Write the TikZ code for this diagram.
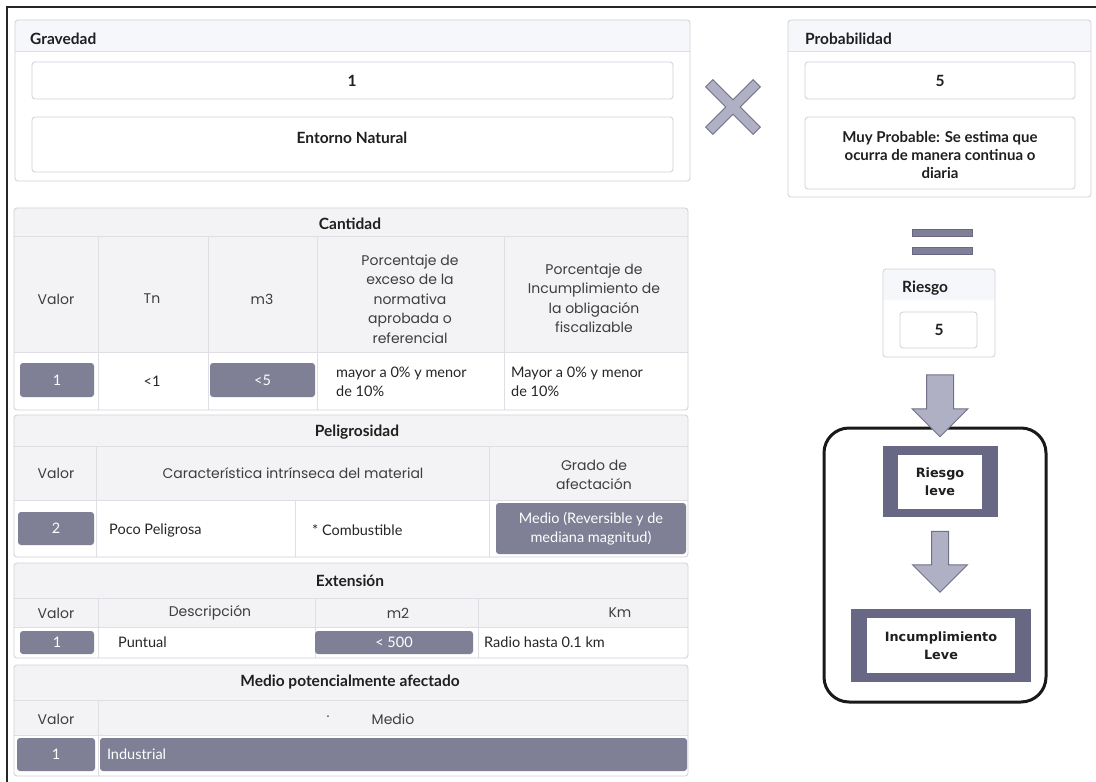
\documentclass[tikz,border=0pt]{standalone}
\usepackage{fontspec}
\setmainfont{Lato}
\newfontfamily\geofont{Poppins}
\newfontfamily\tahfont{DejaVu Sans}
\usetikzlibrary{positioning,shapes.arrows}

\definecolor{panelline}{RGB}{206,207,214}
\definecolor{gridcol}{RGB}{222,222,228}
\definecolor{bandfill}{RGB}{245,247,251}
\definecolor{headfill}{RGB}{243,243,246}
\definecolor{boxgray}{RGB}{127,127,150}
\definecolor{framegray}{RGB}{104,104,132}
\definecolor{arrowfill}{RGB}{176,176,196}
\definecolor{arrowline}{RGB}{112,112,136}
\definecolor{hdtext}{RGB}{62,62,66}

\tikzset{
    % panels and table rules
    panel/.style={draw=panelline, line width=0.8pt, rounded corners=3pt},
    gridrule/.style={draw=gridcol, line width=0.7pt},
    ttl/.style={font=\bfseries\fontsize{15.5}{18}\selectfont, text=black!88, inner sep=0pt},
    hcell/.style={font=\geofont\fontsize{14}{19.5}\selectfont, text=hdtext, align=center, inner sep=0pt},
    dcell/.style={font=\fontsize{14.5}{19}\selectfont, text=black!85, align=left, anchor=west, inner sep=0pt},
    gbox/.style={fill=boxgray, rounded corners=3pt, text=white, inner sep=0pt,
      font=\fontsize{14.5}{19}\selectfont, align=center},
    xbar/.style={rectangle, minimum width=66, minimum height=9, inner sep=0pt},
    eqbar/.style={fill=boxgray, draw=framegray, line width=0.8pt, minimum width=60, minimum height=7, inner sep=0pt},
    bigarrow/.style={single arrow, rotate=-90, fill=arrowfill, draw=arrowline,
      line width=1pt, inner xsep=0pt, single arrow tip angle=90},
    leve/.style={fill=white, inner sep=0pt, align=center, text=black!88,
      font=\tahfont\bfseries\fontsize{12.8}{18}\selectfont},
}

\begin{document}
\begin{tikzpicture}[x=1pt,y=-1pt]
    \useasboundingbox (0,0) rectangle (1096,782);
    \fill[white] (0,0) rectangle (1096,782);
    \draw[line width=1.3pt, black!85] (7,782) -- (7,7) -- (1096,7);

    % Gravedad
    \fill[white, rounded corners=3pt] (15,20) rectangle (690,181);
    \fill[bandfill] (15.4,51) [rounded corners=3pt]-- (15.4,20.4) -- (689.6,20.4) [sharp corners]-- (689.6,51) -- cycle;
    \draw[gridrule] (15,51) -- (690,51);
    \draw[panel] (15,20) rectangle (690,181);
    \node (grav) [ttl, anchor=west] at (30,39) {Gravedad};
    \draw[panel] (32,62) rectangle (673,99);
    \node (gval) [ttl] at (352,81) {1};
    \draw[panel] (32,117) rectangle (673,172);
    \node (gdesc) [ttl] at (352,138) {Entorno Natural};

    % por
    \foreach \a in {45,-45}
      \node (xo\a) [xbar, rotate=\a, draw=arrowline, line width=2pt] at (733,107) {};
    \foreach \a in {45,-45}
      \node (xi\a) [xbar, rotate=\a, fill=arrowfill] at (733,107) {};

    % Probabilidad
    \fill[white, rounded corners=3pt] (788,20) rectangle (1091,197);
    \fill[bandfill] (788.4,51) [rounded corners=3pt]-- (788.4,20.4) -- (1090.6,20.4) [sharp corners]-- (1090.6,51) -- cycle;
    \draw[gridrule] (788,51) -- (1091,51);
    \draw[panel] (788,20) rectangle (1091,197);
    \node (prob) [ttl, anchor=west] at (805,39) {Probabilidad};
    \draw[panel] (805,62) rectangle (1075,99);
    \node (pval) [ttl] at (940,81) {5};
    \draw[panel] (805,117) rectangle (1075,189);
    \node (pdesc) [ttl, align=center, font=\bfseries\fontsize{15}{18}\selectfont] at (940,155)
          {Muy Probable: Se estima que\\ocurra de manera continua o\\diaria};

    % Cantidad
    \fill[white, rounded corners=3pt] (14,208) rectangle (688,410);
    \fill[headfill] (14.4,352) [rounded corners=3pt]-- (14.4,208.4) -- (687.6,208.4) [sharp corners]-- (687.6,352) -- cycle;
    \draw[gridrule] (14,236) -- (688,236) (14,352) -- (688,352);
    \draw[gridrule] (98,236) -- (98,410) (208,236) -- (208,410)
          (317,236) -- (317,410) (504,236) -- (504,410);
    \draw[panel] (14,208) rectangle (688,410);
    \node (cant) [ttl] at (350,224) {Cantidad};
    \node (cvalh) [hcell] at (56,299) {Valor};
    \node (ctnh) [hcell] at (152,299) {Tn};
    \node (cm3h) [hcell] at (262,299) {m3};
    \node (cexh) [hcell] at (410,299)
          {Porcentaje de\\exceso de la\\normativa\\aprobada o\\referencial};
    \node (cinh) [hcell] at (594,298)
          {Porcentaje de\\Incumplimiento de\\la obligación\\fiscalizable};
    \node (cval) [gbox, minimum width=74, minimum height=34] at (57,380) {1};
    \node (ctn) [dcell, anchor=center] at (152,381) {<1};
    \node (cm3) [gbox, minimum width=105, minimum height=34] at (262.5,380) {<5};
    \node (cex) [dcell] at (336,382) {mayor a 0\% y menor\\de 10\%};
    \node (cin) [dcell] at (511,382) {Mayor a 0\% y menor\\de 10\%};

    % Peligrosidad
    \fill[white, rounded corners=3pt] (14,415) rectangle (688,557);
    \fill[headfill] (14.4,500) [rounded corners=3pt]-- (14.4,415.4) -- (687.6,415.4) [sharp corners]-- (687.6,500) -- cycle;
    \draw[gridrule] (14,446) -- (688,446) (14,500) -- (688,500);
    \draw[gridrule] (96,446) -- (96,557) (489,446) -- (489,557) (295,500) -- (295,557);
    \draw[panel] (14,415) rectangle (688,557);
    \node (pel) [ttl] at (357,432) {Peligrosidad};
    \node (pvalh) [hcell] at (56,473) {Valor};
    \node (pcarh) [hcell] at (293,473) {Característica intrínseca del material};
    \node (pgrah) [hcell] at (594,475) {Grado de\\afectación};
    \node (pval2) [gbox, minimum width=76, minimum height=33] at (56,528.5) {2};
    \node (ppoco) [dcell] at (109,530) {Poco Peligrosa};
    \node (pcomb) [dcell] at (312,530) {* Combustible};
    \node (pgra) [gbox, minimum width=190, minimum height=51] at (591,528.5)
          {Medio (Reversible y de\\mediana magnitud)};

    % Extension
    \fill[white, rounded corners=3pt] (14,563) rectangle (688,658);
    \fill[headfill] (14.4,627) [rounded corners=3pt]-- (14.4,563.4) -- (687.6,563.4) [sharp corners]-- (687.6,627) -- cycle;
    \draw[gridrule] (14,598) -- (688,598) (14,627) -- (688,627);
    \draw[gridrule] (98,598) -- (98,658) (315,598) -- (315,658) (478,598) -- (478,658);
    \draw[panel] (14,563) rectangle (688,658);
    \node (ext) [ttl] at (350,581) {Extensión};
    \node (evalh) [hcell] at (56,613) {Valor};
    \node (edesh) [hcell] at (210,613) {Descripción};
    \node (em2h) [hcell] at (398,613) {m2};
    \node (ekmh) [hcell] at (620,613) {Km};
    \node (eval) [gbox, minimum width=74, minimum height=23] at (57,642.5) {1};
    \node (epun) [dcell] at (118,642.5) {Puntual};
    \node (em2) [gbox, minimum width=158, minimum height=23] at (394,642.5) {< 500};
    \node (ekm) [dcell] at (484,642.5) {Radio hasta 0.1 km};

    % Medio potencialmente afectado
    \fill[white, rounded corners=3pt] (14,665) rectangle (688,776);
    \fill[headfill] (14.4,735) [rounded corners=3pt]-- (14.4,665.4) -- (687.6,665.4) [sharp corners]-- (687.6,735) -- cycle;
    \draw[gridrule] (14,700) -- (688,700) (14,735) -- (688,735);
    \draw[gridrule] (98,700) -- (98,776);
    \draw[panel] (14,665) rectangle (688,776);
    \node (med) [ttl] at (350,682) {Medio potencialmente afectado};
    \node (mvalh) [hcell] at (56,719) {Valor};
    \node (mdot) [hcell] at (328,717) {.};
    \node (mmedh) [hcell] at (393,719) {Medio};
    \node (mval) [gbox, minimum width=78, minimum height=33] at (56,754.5) {1};
    \node (mind) [gbox, minimum width=587, minimum height=33, text width=573, align=left] at (393.5,754.5) {Industrial};

    % igual
    \node (eq1) [eqbar] at (942,232.5) {};
    \node (eq2) [eqbar] at (942,250.5) {};

    % Riesgo
    \fill[white, rounded corners=3pt] (883,269) rectangle (995,357);
    \fill[bandfill] (883.4,300) [rounded corners=3pt]-- (883.4,269.4) -- (994.6,269.4) [sharp corners]-- (994.6,300) -- cycle;
    \draw[panel] (883,269) rectangle (995,357);
    \node (ries) [ttl] [anchor=west] at (902,288) {Riesgo};
    \draw[panel] (900,312) rectangle (977,348);
    \node (rval) [ttl] at (939,330) {5};

    % resultado
    \draw[line width=3pt, black!90, rounded corners=25pt] (824,428) rectangle (1046,702);
    \node (arr1) [bigarrow, inner ysep=13pt, minimum height=62, single arrow head extend=14.5] at (940,399) {};
    \fill[framegray] (883,446) rectangle (998,517);
    \node (rleve) [leve, minimum width=84, minimum height=54] at (940,482) {Riesgo\\leve};
    \node (arr2) [bigarrow, inner ysep=8pt, minimum height=61, single arrow head extend=19] at (940,557.5) {};
    \fill[framegray] (851,609) rectangle (1031,682);
    \node (ileve) [leve, minimum width=148, minimum height=55] at (941,645.5) {Incumplimiento\\Leve};
\end{tikzpicture}
\end{document}
